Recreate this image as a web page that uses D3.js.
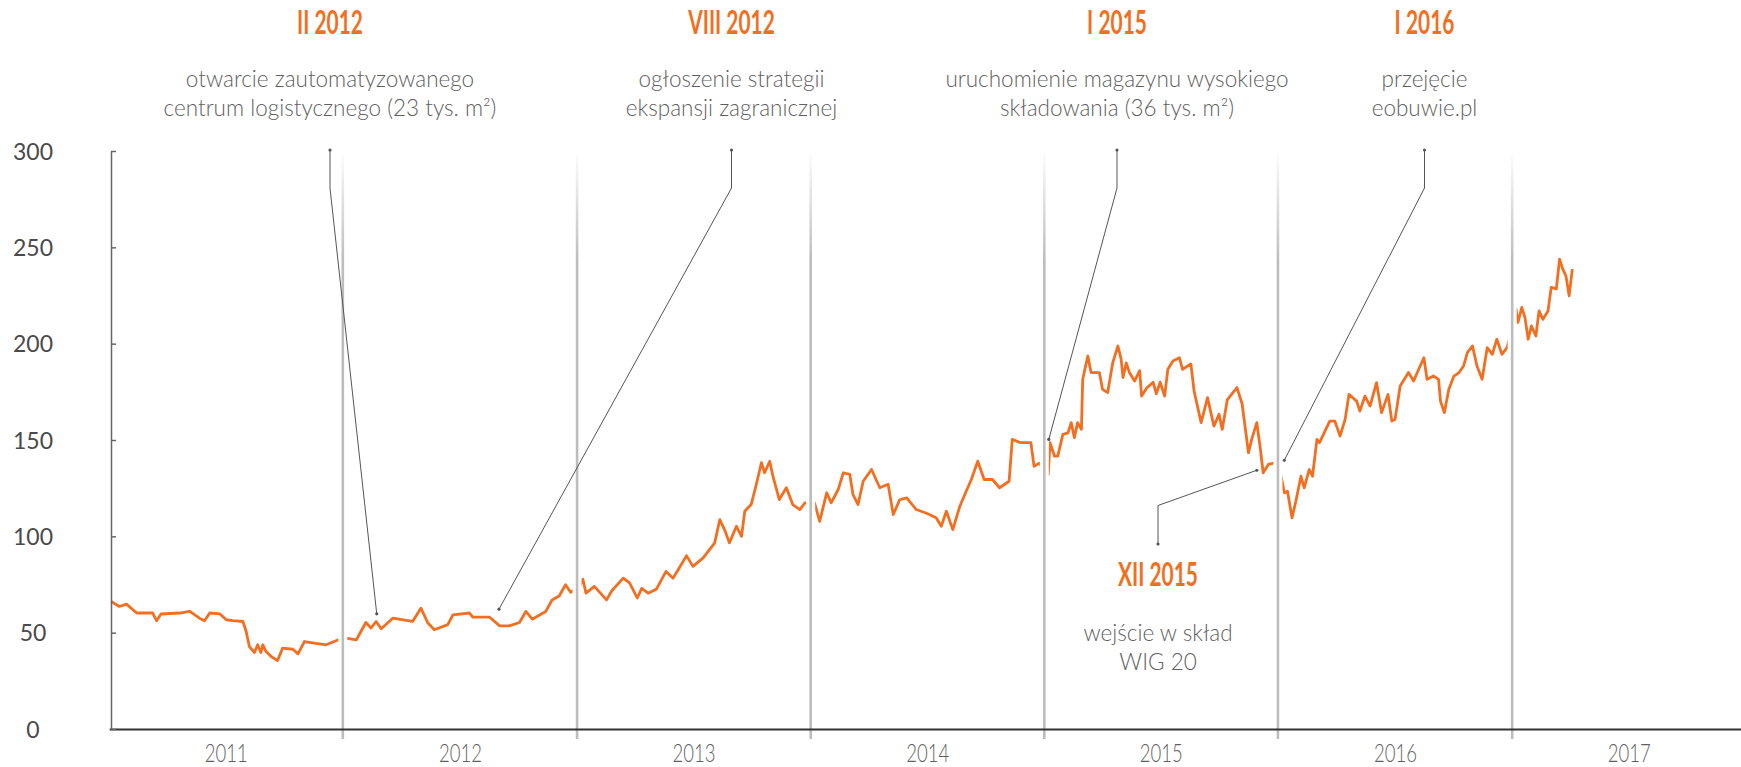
<!DOCTYPE html>
<html>
<head>
<meta charset="utf-8">
<script src="https://cdn.jsdelivr.net/npm/d3@7"></script>
<style>
  html, body { margin: 0; padding: 0; background: #fff; }
  svg { display: block; }
</style>
</head>
<body>
<svg id="chart" width="1741" height="767"></svg>
<script>
// ---------------- DATA ----------------
const dates = [
  "2011-01-04","2011-01-17","2011-01-28","2011-02-13","2011-03-10","2011-03-16","2011-03-23","2011-04-21","2011-05-07","2011-05-22",
  "2011-05-30","2011-06-07","2011-06-23","2011-07-03","2011-07-13","2011-07-29","2011-08-03","2011-08-08","2011-08-16","2011-08-21",
  "2011-08-26","2011-08-29","2011-09-03","2011-09-11","2011-09-21","2011-09-29","2011-10-15","2011-10-23","2011-11-02","2011-11-20",
  "2011-12-06","2011-12-27",
  "2012-01-06","2012-01-22","2012-02-06","2012-02-14","2012-02-22","2012-03-01","2012-03-19","2012-04-19","2012-05-02","2012-05-13",
  "2012-05-23","2012-06-13","2012-06-21","2012-07-17","2012-07-22","2012-08-17","2012-09-02","2012-09-17","2012-10-03","2012-10-13",
  "2012-10-23","2012-11-13","2012-11-23","2012-12-04","2012-12-14","2012-12-22",
  "2013-01-05","2013-01-10","2013-01-15","2013-01-28","2013-02-16","2013-02-24","2013-03-14","2013-03-24","2013-04-05","2013-04-12",
  "2013-04-22","2013-05-05","2013-05-20","2013-05-31","2013-06-08","2013-06-21","2013-07-01","2013-07-17","2013-07-27","2013-08-04",
  "2013-08-12","2013-08-20","2013-08-27","2013-09-07","2013-09-15","2013-09-20","2013-09-30","2013-10-08","2013-10-16","2013-10-21",
  "2013-10-29","2013-11-03","2013-11-13","2013-11-24","2013-12-04","2013-12-15","2013-12-23",
  "2014-01-07","2014-01-15","2014-01-26","2014-02-02","2014-02-13","2014-02-21","2014-03-03","2014-03-08","2014-03-16","2014-03-24",
  "2014-04-06","2014-04-19","2014-05-02","2014-05-10","2014-05-20","2014-05-31","2014-06-15","2014-07-01","2014-07-16","2014-07-24",
  "2014-08-01","2014-08-11","2014-08-22","2014-09-01","2014-09-09","2014-09-19","2014-09-29","2014-10-12","2014-10-23","2014-11-07",
  "2014-11-12","2014-11-25","2014-12-11","2014-12-16","2014-12-24",
  "2015-01-07","2015-01-10","2015-01-17","2015-01-22","2015-01-30","2015-02-07","2015-02-12","2015-02-17","2015-02-22","2015-02-28",
  "2015-03-02","2015-03-10","2015-03-15","2015-03-28","2015-04-02","2015-04-10","2015-04-18","2015-04-26","2015-05-01","2015-05-04",
  "2015-05-09","2015-05-14","2015-05-22","2015-05-30","2015-06-02","2015-06-10","2015-06-20","2015-06-25","2015-07-01","2015-07-08",
  "2015-07-13","2015-07-21","2015-07-31","2015-08-05","2015-08-18","2015-08-23","2015-09-03","2015-09-13","2015-09-23","2015-10-01",
  "2015-10-06","2015-10-14","2015-10-29","2015-11-06","2015-11-16","2015-11-21","2015-11-29","2015-12-04","2015-12-09","2015-12-17",
  "2015-12-28",
  "2016-01-06","2016-01-11","2016-01-16","2016-01-23","2016-01-29","2016-02-06","2016-02-11","2016-02-19","2016-02-24","2016-03-02",
  "2016-03-06","2016-03-22","2016-03-30","2016-04-07","2016-04-15","2016-04-21","2016-05-03","2016-05-08","2016-05-16","2016-05-24",
  "2016-06-03","2016-06-11","2016-06-21","2016-06-27","2016-07-02","2016-07-10","2016-07-23","2016-07-31","2016-08-08","2016-08-16",
  "2016-08-21","2016-08-31","2016-09-08","2016-09-11","2016-09-17","2016-09-24","2016-10-02","2016-10-10","2016-10-17","2016-10-23",
  "2016-10-31","2016-11-07","2016-11-15","2016-11-23","2016-12-01","2016-12-08","2016-12-16","2016-12-24","2016-12-29",
  "2017-01-07","2017-01-10","2017-01-16","2017-01-21","2017-01-26","2017-01-31","2017-02-07","2017-02-12","2017-02-18","2017-02-26",
  "2017-03-03","2017-03-11","2017-03-16","2017-03-21","2017-03-26","2017-03-31","2017-04-05"
];
const prices = [
  66.2,63.6,64.8,60.2,60.2,56.2,59.7,60.2,61.0,57.5,
  56.2,60.2,59.7,56.7,56.2,55.8,50.6,42.8,39.7,43.7,
  39.7,43.7,40.2,37.6,35.5,42.0,41.4,39.0,45.4,44.4,
  43.7,46.6,
  47.2,46.2,55.3,52.4,55.8,52.0,57.5,55.8,62.7,55.0,
  51.5,54.2,59.2,60.2,58.1,58.1,53.5,53.5,55.3,61.0,
  57.0,61.0,67.0,69.0,74.9,71.0,
  74.0,77.8,70.5,74.0,67.0,71.6,78.3,75.8,68.0,73.0,
  70.5,72.6,81.8,78.3,82.7,90.0,84.4,88.8,93.1,96.6,
  108.7,103.0,96.6,105.2,100.0,113.0,116.5,126.9,138.2,133.0,
  139.0,131.2,119.1,125.2,116.5,113.9,117.4,
  117.4,107.8,122.6,117.4,124.3,133.0,132.2,121.8,116.5,128.6,
  134.7,125.2,127.0,111.3,119.0,120.0,113.9,112.0,109.6,105.2,
  113.0,103.5,115.6,123.4,129.5,139.0,129.5,129.5,125.2,128.6,
  150.3,148.6,148.6,136.4,138.0,
  132.0,148.6,141.6,141.6,152.9,153.7,159.0,151.2,159.0,155.5,
  181.5,193.6,185.0,185.0,176.3,174.6,190.2,198.8,192.0,182.4,
  190.0,185.0,180.6,186.0,172.8,177.0,180.0,174.0,180.0,172.8,
  186.7,191.0,192.7,186.7,189.5,175.4,159.0,172.0,157.2,163.4,
  155.5,171.0,177.2,168.8,143.4,150.3,159.0,146.8,133.0,137.3,
  138.2,
  131.2,122.6,123.4,109.6,118.2,131.2,125.2,134.7,131.2,150.3,
  148.6,159.8,159.8,152.0,160.7,173.7,170.2,165.0,172.8,167.6,
  179.8,164.2,173.7,159.8,160.7,178.0,185.0,180.6,186.7,192.7,
  181.5,183.2,181.5,170.2,164.2,176.3,183.2,185.0,188.4,195.4,
  198.8,188.4,181.5,197.9,194.5,202.3,194.5,197.9,204.0,
  217.9,211.0,218.8,213.5,202.3,209.2,204.0,217.0,212.6,217.0,
  229.2,228.4,243.9,238.7,235.2,224.8,238.7
];
const yTicks = [0, 50, 100, 150, 200, 250, 300];
const yearLabels = ["2011", "2012", "2013", "2014", "2015", "2016", "2017"];
const separatorYears = [2012, 2013, 2014, 2015, 2016, 2017];

// annotations (top row)
const annTitles = ["II 2012", "VIII 2012", "I 2015", "I 2016"];
const annTexts = [
  ["otwarcie zautomatyzowanego", "centrum logistycznego (23 tys. m²)"],
  ["ogłoszenie strategii", "ekspansji zagranicznej"],
  ["uruchomienie magazynu wysokiego", "składowania (36 tys. m²)"],
  ["przejęcie", "eobuwie.pl"]
];
const annTipDates = ["2012-02-23", "2012-09-01", "2015-01-08", "2016-01-11"];
const annTipValues = [59.8, 62.2, 150.3, 139.5];
// annotation (bottom)
const annBottomTitle = "XII 2015";
const annBottomText = ["wejście w skład", "WIG 20"];
const annBottomTipDate = "2015-11-29";
const annBottomTipValue = 134.3;

// ---------------- DRAW ----------------
const parse = d3.timeParse("%Y-%m-%d");
const series = dates.map((d, i) => ({ date: parse(d), value: prices[i] }));

const svg = d3.select("#chart");
const orange = "#f26f21";
const textGray = "#5f5f5f";

const x = d3.scaleTime()
  .domain([new Date(2011, 0, 1), new Date(2018, 0, 1)])
  .range([109.2, 1745.8]);
const y = d3.scaleLinear().domain([0, 300]).range([729, 151]);

// helper: measure width of a string in a given font
function measure(str, family, weight, size) {
  const t = svg.append("text").style("font-family", family)
    .style("font-weight", weight).style("font-size", size + "px").text(str);
  const w = t.node().getComputedTextLength();
  t.remove();
  return w;
}
const titleFamily = "Lato, Roboto, sans-serif";
const titleSize = 33;
const titleSX = 66 / measure("II 2012", titleFamily, 700, titleSize);
const yearFamily = "Lato, Roboto, sans-serif";
const yearSize = 25;
const yearSX = 43 / measure("2011", yearFamily, 300, yearSize);

// gradient for separators
const defs = svg.append("defs");
const grad = defs.append("linearGradient")
  .attr("id", "sepGrad").attr("gradientUnits", "userSpaceOnUse")
  .attr("x1", 0).attr("x2", 0).attr("y1", 150).attr("y2", 260);
grad.append("stop").attr("offset", 0).attr("stop-color", "#ffffff");
grad.append("stop").attr("offset", 1).attr("stop-color", "#bdbdbd");

// price line
const line = d3.line().x(d => x(d.date)).y(d => y(d.value)).curve(d3.curveLinear);
svg.append("path")
  .datum(series)
  .attr("fill", "none")
  .attr("stroke", orange)
  .attr("stroke-width", 2.8)
  .attr("stroke-linejoin", "round")
  .attr("d", line);

// year separators (white halo + gray line)
const sepG = svg.append("g");
separatorYears.forEach(yr => {
  const sx = x(new Date(yr, 0, 1));
  sepG.append("line").attr("x1", sx).attr("x2", sx).attr("y1", 185).attr("y2", 738)
    .attr("stroke", "#fff").attr("stroke-width", 9);
  sepG.append("line").attr("x1", sx).attr("x2", sx).attr("y1", 150).attr("y2", 739)
    .attr("stroke", "url(#sepGrad)").attr("stroke-width", 2.6);
});

// x axis (baseline + year labels)
const xAxis = d3.axisBottom(x)
  .tickValues(yearLabels.map(yl => new Date(+yl, 6, 2)))
  .tickFormat((d, i) => yearLabels[i])
  .tickSize(0).tickSizeOuter(0).tickPadding(0);
const gx = svg.append("g").attr("transform", "translate(0,729)").call(xAxis);
gx.select(".domain").attr("stroke", "#333").attr("stroke-width", 2);
gx.selectAll("text")
  .attr("y", 0).attr("dy", 0)
  .attr("transform", `translate(0,32.5) scale(${yearSX},1)`)
  .attr("fill", textGray)
  .style("font-family", yearFamily)
  .style("font-weight", 300)
  .style("font-size", yearSize + "px");

// y axis
const yAxis = d3.axisLeft(y).tickValues(yTicks).tickSize(-5).tickSizeOuter(0);
const gy = svg.append("g").attr("transform", "translate(111,0)").call(yAxis);
gy.select(".domain").attr("stroke", "#666").attr("stroke-width", 1.5);
gy.selectAll(".tick line").attr("stroke", "#666").attr("stroke-width", 1.5);
gy.selectAll("text")
  .attr("x", -78).attr("text-anchor", "middle").attr("dy", "0.36em")
  .attr("fill", "#4a4a4a")
  .style("font-family", "Lato, 'Open Sans', sans-serif")
  .style("font-weight", 400)
  .style("font-size", "23px");

// annotations
const annLayoutX = [330, 731.5, 1117, 1424.5];
const annG = svg.append("g");
const leaderColor = "#555";
function titleText(g, tx, ty, s) {
  g.append("text")
    .attr("transform", `translate(${tx},${ty}) scale(${titleSX},1)`)
    .attr("text-anchor", "middle")
    .attr("fill", orange)
    .style("font-family", titleFamily)
    .style("font-weight", 700).style("font-size", titleSize + "px")
    .text(s);
}
function bodyText(g, tx, ty, lines, lh) {
  lines.forEach((s, i) => {
    g.append("text").attr("x", tx).attr("y", ty + i * lh).attr("text-anchor", "middle")
      .attr("fill", textGray)
      .style("font-family", "Lato, 'Open Sans', sans-serif")
      .style("font-weight", 300).style("font-size", "22.5px")
      .text(s);
  });
}
annTitles.forEach((t, i) => {
  const lx = annLayoutX[i];
  titleText(annG, lx, 33.5, t);
  bodyText(annG, lx, 87, annTexts[i], 28.5);
  const tx = x(parse(annTipDates[i])), ty = y(annTipValues[i]);
  annG.append("path")
    .attr("d", d3.line()([[lx, 150], [lx, 188], [tx, ty]]))
    .attr("fill", "none").attr("stroke", leaderColor).attr("stroke-width", 1);
  annG.append("circle").attr("cx", lx).attr("cy", 150).attr("r", 1.6).attr("fill", leaderColor);
  annG.append("circle").attr("cx", tx).attr("cy", ty).attr("r", 1.6).attr("fill", leaderColor);
});
// bottom annotation
{
  const lx = 1158;
  const tx = x(parse(annBottomTipDate)), ty = y(annBottomTipValue);
  annG.append("path")
    .attr("d", d3.line()([[tx, ty], [lx, 505.5], [lx, 544]]))
    .attr("fill", "none").attr("stroke", leaderColor).attr("stroke-width", 1);
  annG.append("circle").attr("cx", tx).attr("cy", ty).attr("r", 1.6).attr("fill", leaderColor);
  annG.append("circle").attr("cx", lx).attr("cy", 544).attr("r", 1.6).attr("fill", leaderColor);
  titleText(annG, lx, 586, annBottomTitle);
  bodyText(annG, lx, 641, annBottomText, 28.5);
}
</script>
</body>
</html>
